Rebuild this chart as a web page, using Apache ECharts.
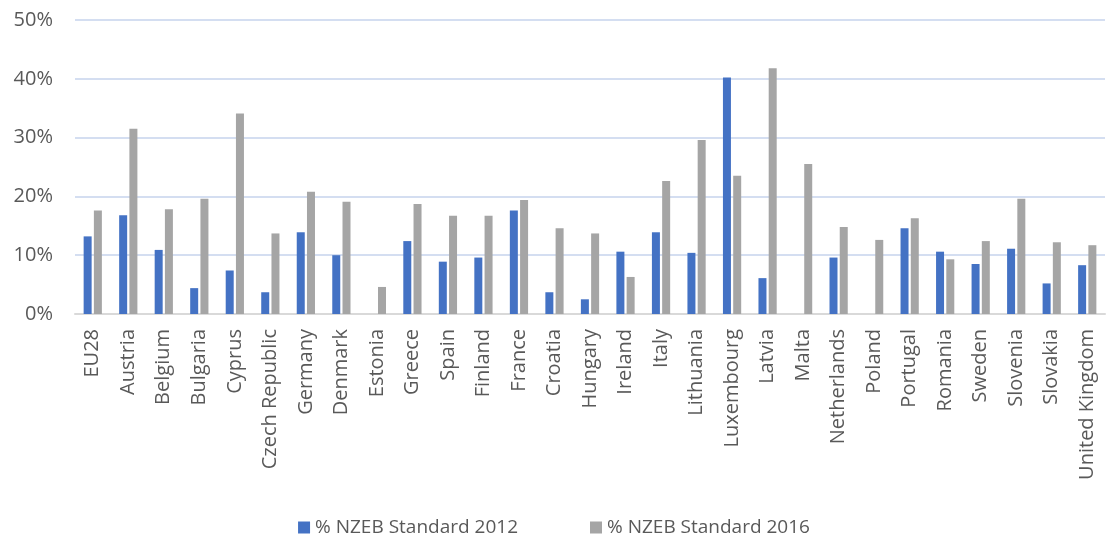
<!DOCTYPE html>
<html>
<head>
<meta charset="utf-8">
<script src="https://cdn.jsdelivr.net/npm/echarts@6/dist/echarts.min.js"></script>
<style>
  html, body { margin: 0; padding: 0; background: #fff; }
  #chart { width: 1108px; height: 541px; }
</style>
</head>
<body>
<div id="chart"></div>
<script>
// Member states (plus the EU28 average)
const countries = [
  'EU28', 'Austria', 'Belgium', 'Bulgaria', 'Cyprus', 'Czech Republic', 'Germany',
  'Denmark', 'Estonia', 'Greece', 'Spain', 'Finland', 'France', 'Croatia', 'Hungary',
  'Ireland', 'Italy', 'Lithuania', 'Luxembourg', 'Latvia', 'Malta', 'Netherlands',
  'Poland', 'Portugal', 'Romania', 'Sweden', 'Slovenia', 'Slovakia', 'United Kingdom'
];

// Share of buildings meeting the NZEB standard, in percent
const nzeb2012 = [
  13.2, 16.8, 10.9, 4.4, 7.4, 3.7, 13.9,
  10.0, 0, 12.4, 8.9, 9.6, 17.6, 3.7, 2.5,
  10.6, 13.9, 10.4, 40.2, 6.1, 0, 9.6,
  0, 14.6, 10.6, 8.5, 11.1, 5.2, 8.3
];
const nzeb2016 = [
  17.6, 31.5, 17.8, 19.6, 34.1, 13.7, 20.8,
  19.1, 4.6, 18.7, 16.7, 16.7, 19.4, 14.6, 13.7,
  6.3, 22.6, 29.6, 23.5, 41.8, 25.5, 14.8,
  12.6, 16.3, 9.3, 12.4, 19.6, 12.2, 11.7
];

const seriesNames = ['% NZEB Standard 2012', '% NZEB Standard 2016'];
const yTicks = { min: 0, max: 50, step: 10 };

const textColor = '#595959';
const fontFamily = '"Open Sans", "Noto Sans", sans-serif';

const chart = echarts.init(document.getElementById('chart'), null, { renderer: 'canvas' });

chart.setOption({
  animation: false,
  textStyle: { fontFamily },
  grid: { left: 75, right: 3, top: 20, bottom: 227, containLabel: false },
  legend: {
    bottom: -1,
    left: 'center',
    itemWidth: 12,
    itemHeight: 12,
    itemGap: 72,
    icon: 'rect',
    textStyle: { color: textColor, fontSize: 19, fontFamily },
    data: seriesNames
  },
  xAxis: {
    type: 'category',
    data: countries,
    axisLine: { lineStyle: { color: '#d9d9d9', width: 2 } },
    axisTick: { show: false },
    axisLabel: {
      rotate: 90,
      interval: 0,
      margin: 15,
      color: textColor,
      fontSize: 20,
      fontFamily
    }
  },
  yAxis: {
    type: 'value',
    min: yTicks.min,
    max: yTicks.max,
    interval: yTicks.step,
    axisLine: { show: false },
    axisTick: { show: false },
    axisLabel: {
      formatter: '{value}%',
      color: textColor,
      fontSize: 20,
      margin: 22,
      fontFamily
    },
    splitLine: { lineStyle: { color: '#c6d3ec', width: 1.5 } }
  },
  series: [
    {
      name: seriesNames[0],
      type: 'bar',
      data: nzeb2012,
      barWidth: 8,
      barGap: '28%',
      itemStyle: { color: '#4472C4' }
    },
    {
      name: seriesNames[1],
      type: 'bar',
      data: nzeb2016,
      barWidth: 8,
      barGap: '28%',
      itemStyle: { color: '#A5A5A5' }
    }
  ]
});
</script>
</body>
</html>
